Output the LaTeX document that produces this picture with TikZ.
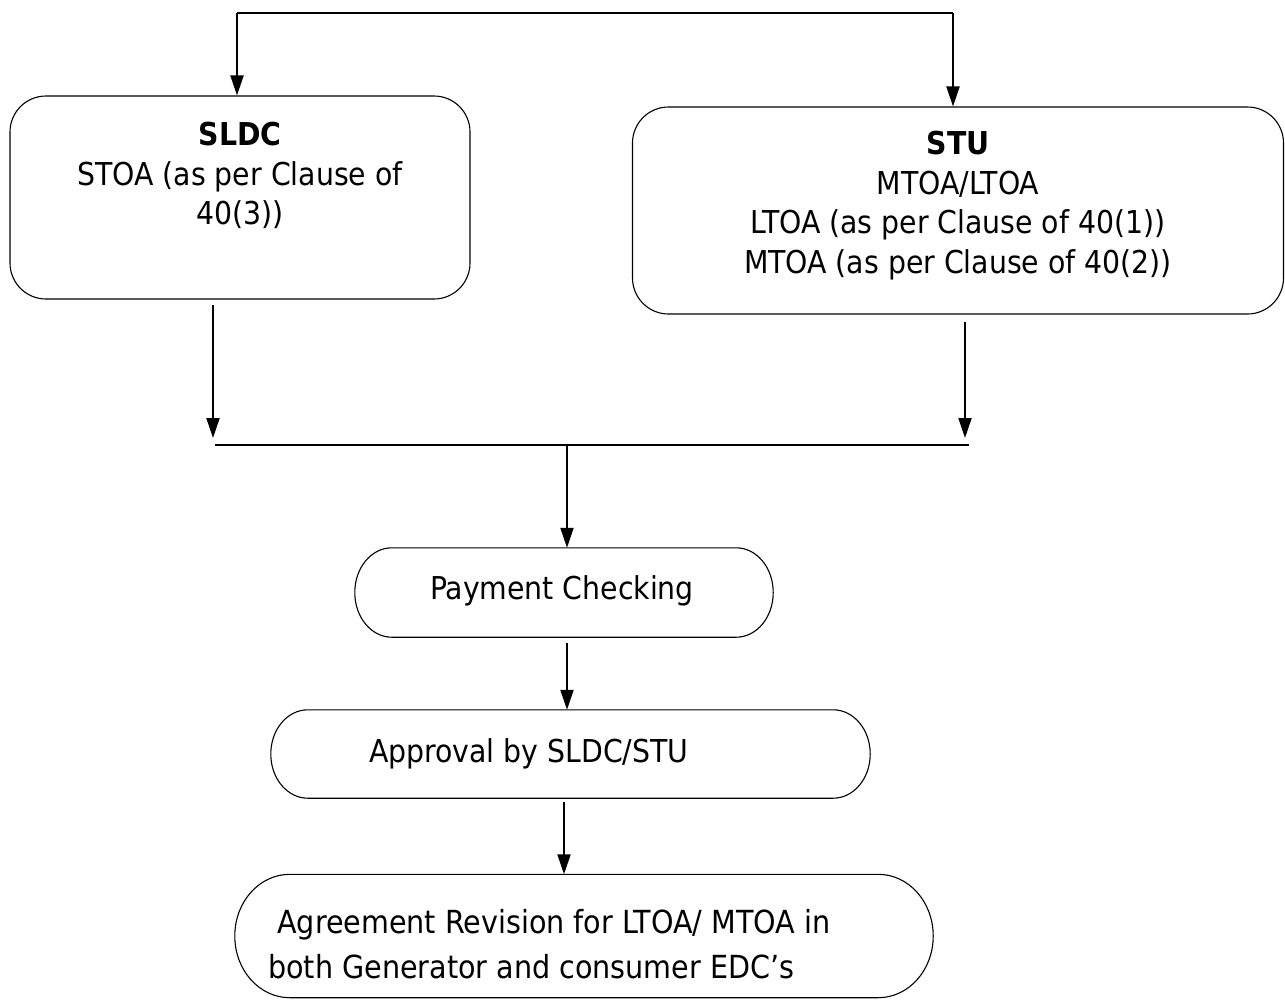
\documentclass[tikz,border=0pt]{standalone}
\usepackage{fontspec}
\setmainfont{DejaVu Sans Condensed}
\usetikzlibrary{arrows.meta}
\newcommand\ovalframe[3]{%
  \draw[boxline] ([xshift=#2]#1.north west) -- ([xshift=-#2]#1.north east)
    arc[start angle=90,end angle=0,x radius=#2,y radius=#3]
    -- ([yshift=#3]#1.south east)
    arc[start angle=0,end angle=-90,x radius=#2,y radius=#3]
    -- ([xshift=#2]#1.south west)
    arc[start angle=270,end angle=180,x radius=#2,y radius=#3]
    -- ([yshift=-#3]#1.north west)
    arc[start angle=180,end angle=90,x radius=#2,y radius=#3]
    -- cycle;}
\begin{document}
\begin{tikzpicture}[x=1pt,y=-1pt,
  boxline/.style={draw=black,line width=1.1pt},
  box/.style={draw=black,line width=1.1pt,rounded corners=#1,inner sep=0pt},
  frame/.style={draw=none,inner sep=0pt},
  txt/.style={inner sep=0pt,align=center,font=\fontsize{31.5}{39.5}\selectfont},
  conn/.style={line width=2pt,-{Triangle[length=20pt,width=13pt]}},
  plain/.style={line width=2pt}]
\useasboundingbox (0,0) rectangle (1285,999);
% boxes
\node[box=36pt,minimum width=460pt,minimum height=203pt] (sldc) at (240,197.5) {};
\node[box=36pt,minimum width=651pt,minimum height=207pt] (stu) at (958,210.5) {};
\node[frame,minimum width=418pt,minimum height=89pt] (pay) at (564,592.5) {};
\node[frame,minimum width=599pt,minimum height=88pt] (appr) at (570.5,754) {};
\node[frame,minimum width=698pt,minimum height=123pt] (agr) at (584,936) {};
\ovalframe{pay}{37pt}{44.5pt}
\ovalframe{appr}{37pt}{44pt}
\ovalframe{agr}{55pt}{61.5pt}
% texts
\node[txt,anchor=north] (sldct) at (240,122) {\textbf{SLDC}\\STOA (as per Clause of\\40(3))};
\node[txt,anchor=north] (stut) at (958,131) {\textbf{STU}\\MTOA/LTOA\\LTOA (as per Clause of 40(1))\\MTOA (as per Clause of 40(2))};
\node[txt] (payt) at (562,591) {Payment Checking};
\node[txt,anchor=west] (apprt) at (369,754) {Approval by SLDC/STU};
\node[txt,anchor=west,align=left,font=\fontsize{31.8}{45}\selectfont] (agrt) at (268,944) {\ Agreement Revision for LTOA/ MTOA in\\both Generator and consumer EDC’s};
% top distribution
\coordinate (tl) at (237,13);
\coordinate (tr) at (953,13);
\draw[plain] (tl) -- (tr);
\draw[conn] (tl) -- (sldc.north -| tl);
\draw[conn] (tr) -- (stu.north -| tr);
% merge
\coordinate (ml) at (215,445);
\coordinate (mr) at (969,445);
\coordinate (mm) at (567,445);
\coordinate (sa) at (213,305);
\coordinate (sb) at (965,322);
\draw[conn] (sa) -- (213,438);
\draw[conn] (sb) -- (965,438);
\draw[plain] (ml) -- (mr);
\draw[conn] (mm) -- (pay.north -| mm);
\coordinate (p1) at (567,643);
\draw[conn] (p1) -- (appr.north -| p1);
\coordinate (a1) at (564,802);
\draw[conn] (a1) -- (agr.north -| a1);
\end{tikzpicture}
\end{document}
